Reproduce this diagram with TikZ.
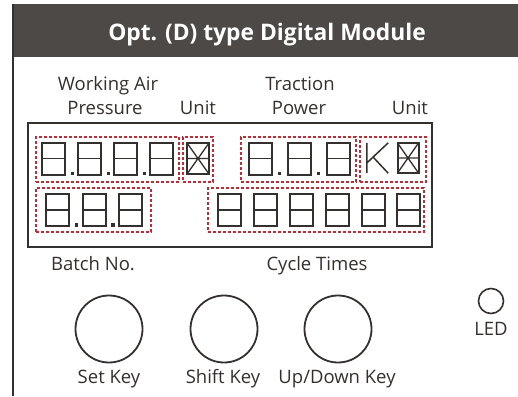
\documentclass[tikz,border=0pt]{standalone}
\usepackage{fontspec}
\setmainfont{Open Sans}
\usetikzlibrary{positioning}
\definecolor{panelgray}{RGB}{76,73,70}
\definecolor{inkgray}{RGB}{52,48,46}
\definecolor{dashred}{RGB}{192,44,54}

\begin{document}
\begin{tikzpicture}[
  x=1pt,y=-1pt,
  panel/.style={fill=panelgray,minimum width=505pt,minimum height=53pt,
    inner sep=0pt},
  heading/.style={anchor=base,text=white,font=\bfseries\fontsize{22.8}{26}\selectfont},
  lbl/.style={anchor=base,text=inkgray,font=\fontsize{18.5}{22}\selectfont,
    inner sep=0pt},
  display/.style={draw=inkgray,line width=2.3pt,minimum width=404pt,
    minimum height=124pt,inner sep=0pt},
  group/.style={draw=dashred,line width=1.4pt,dash pattern=on 3pt off 2pt,
    inner sep=0pt},
  digit/.style={draw=inkgray,line width=2pt,minimum width=23pt,
    minimum height=32pt,inner sep=0pt,
    path picture={\draw[inkgray,line width=1.6pt]
      (path picture bounding box.west)--(path picture bounding box.east);}},
  unitdigit/.style={draw=inkgray,line width=2pt,minimum width=22pt,
    minimum height=31pt,inner sep=0pt,
    path picture={\draw[inkgray,line width=1.3pt]
      (path picture bounding box.west)--(path picture bounding box.east)
      (path picture bounding box.north west)--(path picture bounding box.south east)
      (path picture bounding box.north east)--(path picture bounding box.south west);}},
  dot/.style={fill=inkgray,minimum size=3.6pt,inner sep=0pt,anchor=south west},
  key/.style={circle,draw=inkgray,line width=1.8pt,minimum size=67pt,
    inner sep=0pt},
  led/.style={circle,draw=inkgray,line width=1.6pt,minimum size=25pt,
    inner sep=0pt}
]
\useasboundingbox (0,0) rectangle (518,396);
% title bar and frame
\node[panel] (bar) at (265.5,30.5) {};
\node[heading] (title) at (267,41) {Opt. (D) type Digital Module};
\draw[inkgray,line width=1.5pt] (bar.north west) -- (bar.north west |- 0,396);
% upper labels
\node[lbl] (wair) at (108,90.5) {Working Air};
\node[lbl] (press) at (105,114.5) {Pressure};
\node[lbl] (unita) at (198,114.5) {Unit};
\node[lbl] (tract) at (300,90.5) {Traction};
\node[lbl] (power) at (299,114.5) {Power};
\node[lbl] (unitb) at (410,114.5) {Unit};
% display
\node[display] (disp) at (230,185) {};
\node[group] (grpA) at (107.5,159.5) [minimum width=143pt,minimum height=45pt] {};
\node[group] (grpB) at (198,159.5) [minimum width=30pt,minimum height=45pt] {};
\node[group] (grpC) at (298.5,159.5) [minimum width=115pt,minimum height=45pt] {};
\node[group] (grpD) at (393,159.5) [minimum width=66pt,minimum height=45pt] {};
\node[group] (grpE) at (93.5,210) [minimum width=115pt,minimum height=44pt] {};
\node[group] (grpF) at (316,210) [minimum width=216pt,minimum height=44pt] {};
% working air pressure
\node[digit] (a1) at (53.5,158.5) {};
\node[digit] (a2) at (89.5,158.5) {};
\node[digit] (a3) at (125.5,158.5) {};
\node[digit] (a4) at (161.5,158.5) {};
\node[dot] (a1p) at ([xshift=4.5pt]a1.south east) {};
\node[dot] (a2p) at ([xshift=4.5pt]a2.south east) {};
\node[dot] (a3p) at ([xshift=4.5pt]a3.south east) {};
\node[unitdigit] (ua) at (198,158.5) {};
% traction power
\node[digit] (c1) at (260,158.5) {};
\node[digit] (c2) at (299,158.5) {};
\node[digit] (c3) at (338,158.5) {};
\node[dot] (c1p) at ([xshift=5pt]c1.south east) {};
\node[dot] (c2p) at ([xshift=5pt]c2.south east) {};
\node (kglyph) at (377.5,158) [minimum width=21pt,minimum height=30pt,inner sep=0pt] {};
\coordinate (kjoin) at (373,157);
\draw[inkgray,line width=1.5pt] (kglyph.north west) -- (kglyph.south west)
  (kglyph.north east) -- ([yshift=-5pt]kglyph.west)
  (kjoin) -- (kglyph.south east);
\node[unitdigit] (ub) at (408,158) [minimum width=21pt,minimum height=30pt] {};
% batch no.
\node[digit] (e1) at (57.5,210) {};
\node[digit] (e2) at (94,210) {};
\node[digit] (e3) at (130.5,210) {};
\node[dot] (e1p) at ([xshift=4.5pt]e1.south east) {};
\node[dot] (e2p) at ([xshift=4.5pt]e2.south east) {};
% cycle times
\node[digit] (f1) at (229,210) {};
\node[digit] (f2) at (265,210) {};
\node[digit] (f3) at (301,210) {};
\node[digit] (f4) at (337,210) {};
\node[digit] (f5) at (373,210) {};
\node[digit] (f6) at (408,210) {};
% lower labels
\node[lbl] (batch) at (93,270) {Batch No.};
\node[lbl] (cycle) at (317,270) {Cycle Times};
% keys
\node[key] (setk) at (109,329) {};
\node[key] (shiftk) at (224,329) {};
\node[key] (updown) at (338,329) {};
\node[led] (ledc) at (491,301) {};
\node[lbl] (ledl) at (491,335) {LED};
\node[lbl] (setl) at (109,383) {Set Key};
\node[lbl] (shiftl) at (223,383) {Shift Key};
\node[lbl] (updl) at (337,383) {Up/Down Key};
\end{tikzpicture}
\end{document}
